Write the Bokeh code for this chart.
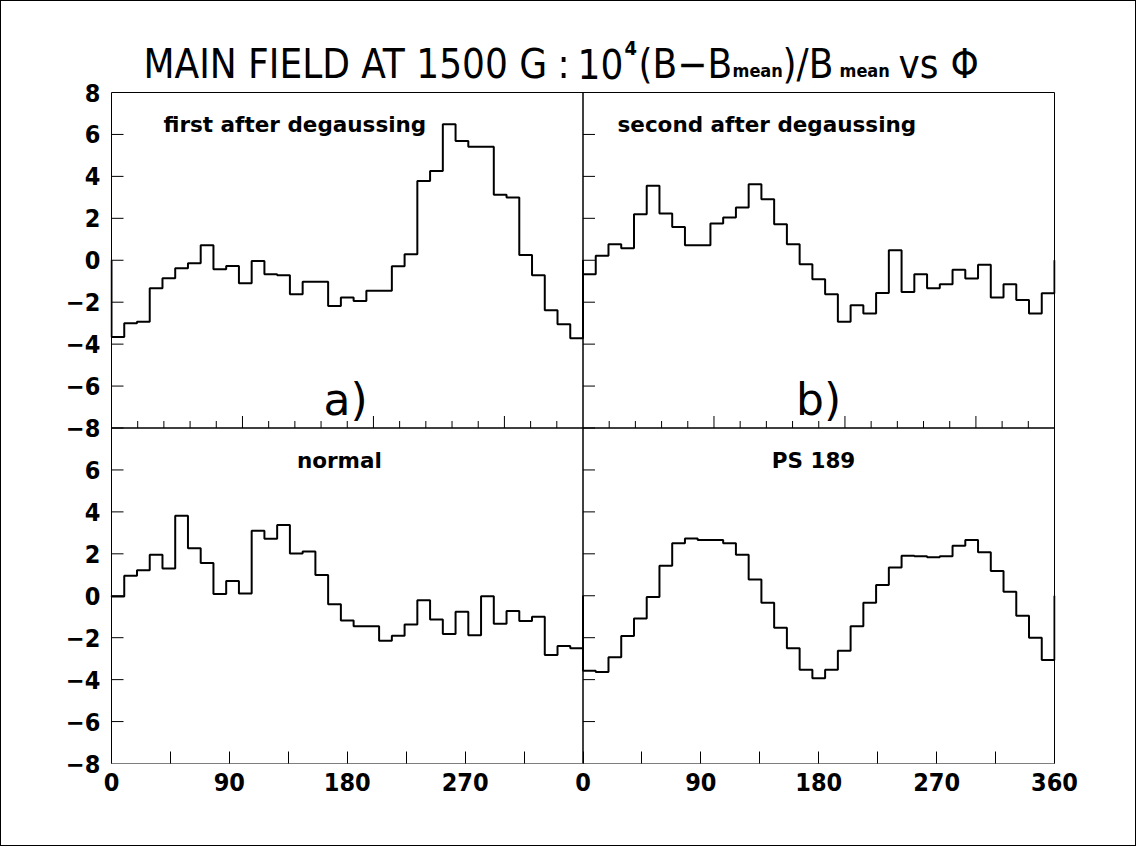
import numpy as np
from bokeh.plotting import figure
from bokeh.models import Range1d, FixedTicker, Label
from bokeh.embed import file_html
from bokeh.resources import INLINE

# ---------------- data ----------------
N_BINS = 37
PHI_MIN, PHI_MAX = 0, 360
Y_MIN, Y_MAX = -8, 8

first_after = [-3.66, -3.00, -2.93, -1.34, -0.86, -0.38, -0.14, 0.72, -0.43, -0.27,
               -1.10, -0.03, -0.67, -0.72, -1.62, -1.02, -1.02, -2.18, -1.78, -1.94,
               -1.46, -1.46, -0.29, 0.29, 3.78, 4.26, 6.49, 5.69, 5.41, 5.41,
               3.12, 2.99, 0.25, -0.72, -2.38, -3.05, -3.72]
second_after = [-0.67, 0.21, 0.76, 0.57, 2.19, 3.55, 2.23, 1.59, 0.72, 0.72,
                1.75, 2.04, 2.51, 3.62, 2.91, 1.72, 0.76, -0.19, -0.91, -1.62,
                -2.93, -2.15, -2.54, -1.56, 0.48, -1.51, -0.67, -1.34, -1.14, -0.45,
                -0.87, -0.21, -1.78, -1.14, -1.89, -2.54, -1.57]
normal = [-0.03, 0.95, 1.22, 1.96, 1.30, 3.82, 2.27, 1.56, 0.08, 0.70,
          0.11, 3.10, 2.72, 3.37, 2.02, 2.11, 0.99, -0.40, -1.18, -1.45,
          -1.45, -2.15, -1.91, -1.37, -0.21, -1.13, -1.83, -0.76, -1.88, -0.02,
          -1.34, -0.73, -1.21, -1.00, -2.83, -2.40, -2.50]
ps189 = [-3.58, -3.64, -2.93, -1.92, -1.08, -0.06, 1.43, 2.50, 2.73, 2.66,
         2.66, 2.50, 1.96, 0.78, -0.33, -1.53, -2.50, -3.53, -3.94, -3.53,
         -2.62, -1.45, -0.33, 0.51, 1.35, 1.91, 1.88, 1.84, 1.88, 2.38,
         2.66, 2.08, 1.18, 0.19, -0.95, -2.00, -3.07]

panel_series = [first_after, second_after, normal, ps189]
panel_names = ["first after degaussing", "second after degaussing", "normal", "PS 189"]
panel_tags = ["a)", "b)"]
x_tick_values = [0, 90, 180, 270, 360]
y_tick_values = [8, 6, 4, 2, 0, -2, -4, -6, -8]

# ---------------- geometry (canvas px) ----------------
W, H = 1136, 846
PL, PR, PT, PB = 110, 1053, 91, 762        # panel block edges
FL, FR = PL - 1, PR + 1                    # frame slightly wider so edge lines are not clipped
FT, FB = 0, PB                             # frame reaches canvas top (title lives inside it)
PXX = (2 * (PHI_MAX - PHI_MIN)) / (PR - PL)        # data per px, x
PXY = (2 * (Y_MAX - Y_MIN)) / (PB - PT)            # data per px, y
X0 = PHI_MIN - (PL - FL) * PXX
X1 = 2 * PHI_MAX + (FR - PR) * PXX
Y0 = Y_MIN - (Y_MAX - Y_MIN)
Y1 = Y_MAX + (PT - FT) * PXY

def X(px):           # page px -> data x
    return (px - 1 - PL) * PXX

def Y(py):           # page px -> data y
    return Y_MAX - (py - 1 - PT) * PXY

p = figure(width=W, height=H, output_backend="svg", toolbar_location=None,
           x_range=Range1d(X0, X1), y_range=Range1d(Y0, Y1),
           min_border_left=FL, min_border_right=W - FR,
           min_border_top=FT, min_border_bottom=H - FB)
p.styles = {"position": "absolute", "left": "0px", "top": "0px",
            "border": "1px solid black"}
p.background_fill_color = "white"
p.border_fill_color = "white"
p.outline_line_color = None
p.xgrid.visible = False
p.ygrid.visible = False

TICK_FONT = "'DejaVu Sans Condensed', 'Liberation Sans'"

# bottom axis (both columns)
xt = list(range(0, 2 * PHI_MAX + 1, 45))
p.xaxis.ticker = FixedTicker(ticks=xt, minor_ticks=[])
ov = {}
for t in xt:
    local = t if t < PHI_MAX else t - PHI_MAX
    ov[t] = str(local) if (t % 90 == 0 and local in x_tick_values) else ""
ov[2 * PHI_MAX] = str(PHI_MAX)
p.xaxis.major_label_overrides = ov
p.xaxis.major_tick_in = 12
p.xaxis.major_tick_out = 0
p.xaxis.minor_tick_in = 0
p.xaxis.minor_tick_out = 0
p.xaxis.major_label_standoff = 9
p.xaxis.major_label_text_font = TICK_FONT
p.xaxis.major_label_text_font_size = "25px"
p.xaxis.major_label_text_font_style = "bold"
p.xaxis.major_label_text_color = "black"
p.xaxis.axis_line_color = None
p.xaxis.major_tick_line_color = "black"

# left axis (both rows)
yt = list(y_tick_values) + [v - (Y_MAX - Y_MIN) for v in y_tick_values if Y_MIN < v < Y_MAX] \
     + [Y_MIN - (Y_MAX - Y_MIN)]
p.yaxis.ticker = FixedTicker(ticks=yt, minor_ticks=[])
yov = {}
for t in yt:
    local = t if t >= Y_MIN else t + (Y_MAX - Y_MIN)
    yov[t] = str(local).replace("-", "\u2212")
p.yaxis.major_label_overrides = yov
p.yaxis.major_tick_in = 0
p.yaxis.major_tick_out = 0
p.yaxis.minor_tick_in = 0
p.yaxis.minor_tick_out = 0
p.yaxis.major_label_standoff = 10
p.yaxis.major_label_text_font = TICK_FONT
p.yaxis.major_label_text_font_size = "25px"
p.yaxis.major_label_text_font_style = "bold"
p.yaxis.major_label_text_color = "black"
p.yaxis.axis_line_color = None

# panel frames
bx0, bx1, by0, by1 = [], [], [], []
for col in range(2):
    for row in range(2):
        bx0.append(col * PHI_MAX)
        bx1.append((col + 1) * PHI_MAX)
        by1.append(Y_MAX - row * (Y_MAX - Y_MIN))
        by0.append(Y_MIN - row * (Y_MAX - Y_MIN))
p.quad(left=bx0, right=bx1, bottom=by0, top=by1, fill_color=None,
       line_color="black", line_width=1)

# inner ticks on the left edge of every panel
tx0, ty = [], []
for col in range(2):
    for v in yt:
        if Y0 < v < Y_MAX:
            tx0.append(col * PHI_MAX)
            ty.append(v)
p.segment(x0=tx0, y0=ty, x1=[x + 12 * PXX for x in tx0], y1=ty,
          line_color="black", line_width=1)
# inner ticks on bottom edge of top row (every 20 deg, longer every 100)
sx, sy0, sy1 = [], [], []
for col in range(2):
    for d in range(20, PHI_MAX, 20):
        sx.append(d + col * PHI_MAX)
        sy0.append(Y_MIN)
        sy1.append(Y_MIN + (12 if d % 100 == 0 else 7) * PXY)
p.segment(x0=sx, y0=sy0, x1=sx, y1=sy1, line_color="black", line_width=1)

# histograms
edges = np.linspace(PHI_MIN, PHI_MAX, N_BINS + 1)
for i, vals in enumerate(panel_series):
    col, row = i % 2, i // 2
    xo = col * PHI_MAX
    yo = -row * (Y_MAX - Y_MIN)
    xs = [edges[0]]
    ys = [0.0]
    for k, v in enumerate(vals):
        xs += [edges[k], edges[k + 1]]
        ys += [v, v]
    xs.append(edges[-1])
    ys.append(0.0)
    p.line(np.array(xs) + xo, np.array(ys) + yo, line_color="black", line_width=2)

LBL_FONT = "DejaVu Sans"
def lab(x, y, txt, size, align="left", style="bold", font=LBL_FONT):
    p.add_layout(Label(x=x, y=y, text=txt, text_font=font, text_font_style=style,
                       text_font_size=size, text_align=align, text_baseline="alphabetic",
                       text_color="black"))

lab(X(163), Y(124), panel_names[0], "21.5px")
lab(X(617), Y(124), panel_names[1], "21.5px")
lab(PHI_MAX / 2 - 6, Y(460), panel_names[2], "21.5px", "center")
lab(PHI_MAX + PHI_MAX / 2 - 4, Y(460), panel_names[3], "21.5px", "center")
lab(X(345), Y(399), panel_tags[0], "44px", "center", "normal")
lab(X(818), Y(399), panel_tags[1], "44px", "center", "normal")

# title pieces
TF = "'DejaVu Sans Condensed', 'Liberation Sans'"
TS = "40px"
lab(X(143), Y(63), "MAIN FIELD AT 1500 G", TS, "left", "normal", TF)
lab(X(557), Y(63), ":", TS, "left", "normal", TF)
lab(X(577), Y(63), "10", TS, "left", "normal", TF)
lab(X(624), Y(47), "4", "20px", "left", "bold", TF)
lab(X(638), Y(63), "(B\u2212B", TS, "left", "normal", TF)
lab(X(732), Y(70), "mean", "18px", "left", "bold", TF)
lab(X(782), Y(63), ")/B", TS, "left", "normal", TF)
lab(X(839), Y(70), "mean", "18px", "left", "bold", TF)
lab(X(898), Y(63), "vs", TS, "left", "normal", TF)
lab(X(950), Y(63), "\u03a6", TS, "left", "normal", TF)

open("out.html", "w").write(file_html(p, INLINE))
